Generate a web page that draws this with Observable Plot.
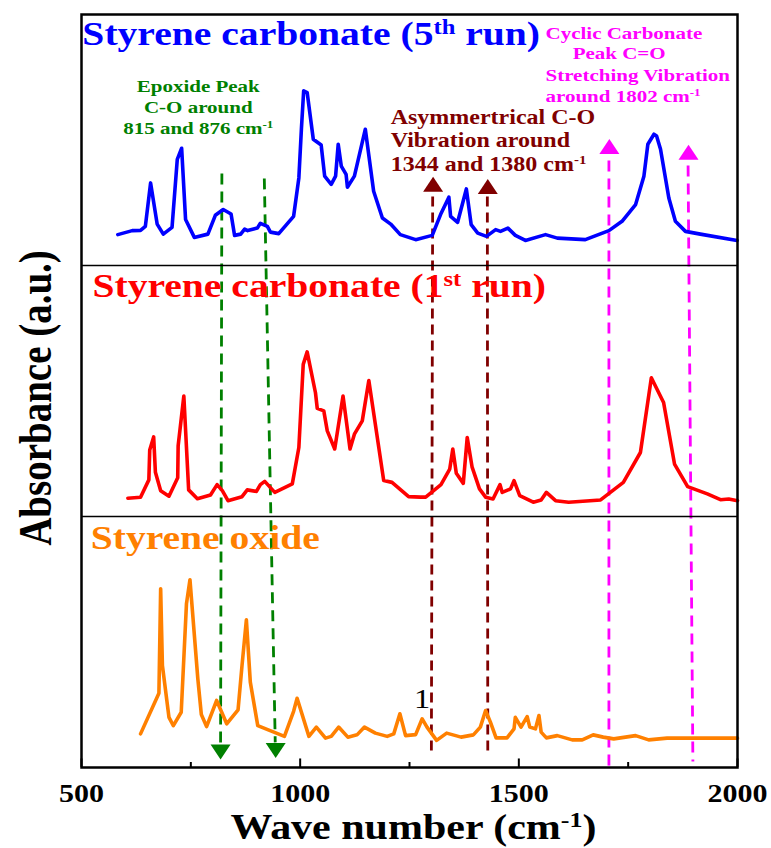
<!DOCTYPE html>
<html>
<head>
<meta charset="utf-8">
<script src="https://cdn.jsdelivr.net/npm/d3@7"></script>
<script src="https://cdn.jsdelivr.net/npm/@observablehq/plot@0.6"></script>
<style>
  body { margin: 0; background: #fff; }
  #chart svg { display: block; }
</style>
</head>
<body>
<div id="chart"></div>
<script>
// ---------- DATA ----------
const xTicks = [500, 1000, 1500, 2000];
const xMinorTicks = [750, 1250, 1750];

const seriesNames = ["Styrene carbonate (5^{th} run)", "Styrene carbonate (1^{st} run)", "Styrene oxide"];

// Styrene carbonate (5th run)
const wn5th = [583, 616, 635, 646, 658, 673, 687, 707, 719, 729, 738, 758, 789, 806, 824, 842, 850, 864, 873, 880,
  902, 909, 925, 932, 951, 985, 997, 1003, 1008, 1016, 1030, 1048, 1056, 1071, 1081, 1087, 1094, 1105, 1108, 1124,
  1149, 1168, 1188, 1207, 1229, 1264, 1302, 1321, 1340, 1344, 1360, 1380, 1391, 1406, 1426, 1447, 1458, 1475, 1492, 1515,
  1561, 1588, 1652, 1706, 1736, 1767, 1786, 1795, 1809, 1815, 1824, 1843, 1858, 1881, 1915, 1999];
const abs5th = [0.123, 0.139, 0.140, 0.156, 0.329, 0.165, 0.125, 0.152, 0.423, 0.467, 0.183, 0.112, 0.125, 0.200, 0.223, 0.205, 0.120, 0.125, 0.145, 0.139,
  0.149, 0.168, 0.156, 0.133, 0.127, 0.196, 0.349, 0.549, 0.696, 0.689, 0.503, 0.480, 0.356, 0.323, 0.356, 0.483, 0.396, 0.363, 0.312, 0.356,
  0.543, 0.296, 0.189, 0.165, 0.123, 0.103, 0.120, 0.203, 0.272, 0.196, 0.172, 0.305, 0.163, 0.129, 0.116, 0.143, 0.136, 0.149, 0.120, 0.100,
  0.123, 0.109, 0.103, 0.139, 0.176, 0.243, 0.356, 0.483, 0.523, 0.516, 0.463, 0.269, 0.176, 0.136, 0.125, 0.100];

// Styrene carbonate (1st run)
const wn1st = [606, 635, 654, 656, 665, 669, 681, 700, 720, 721, 734, 745, 765, 795, 810, 822, 835, 867, 879, 900,
  909, 919, 942, 982, 997, 1007, 1016, 1035, 1039, 1054, 1062, 1079, 1098, 1114, 1124, 1142, 1157, 1191, 1210, 1248,
  1275, 1287, 1322, 1342, 1349, 1357, 1373, 1382, 1393, 1410, 1424, 1441, 1457, 1462, 1481, 1489, 1502, 1533, 1551, 1563,
  1584, 1614, 1687, 1739, 1778, 1803, 1831, 1856, 1886, 1931, 1961, 1980, 2000];
const abs1st = [0.073, 0.077, 0.146, 0.265, 0.317, 0.176, 0.103, 0.081, 0.154, 0.282, 0.480, 0.106, 0.071, 0.086, 0.127, 0.103, 0.063, 0.079, 0.106, 0.100,
  0.127, 0.140, 0.096, 0.130, 0.275, 0.606, 0.656, 0.493, 0.431, 0.421, 0.341, 0.269, 0.480, 0.269, 0.328, 0.381, 0.542, 0.143, 0.136, 0.079,
  0.077, 0.077, 0.127, 0.189, 0.269, 0.172, 0.132, 0.315, 0.198, 0.110, 0.077, 0.070, 0.127, 0.096, 0.110, 0.143, 0.083, 0.057, 0.066, 0.096,
  0.063, 0.057, 0.066, 0.136, 0.255, 0.553, 0.454, 0.209, 0.119, 0.090, 0.067, 0.070, 0.063];

// Styrene oxide
const wnOx = [635, 677, 681, 685, 700, 710, 728, 740, 748, 766, 774, 786, 809, 832, 858, 867, 877, 886, 903, 964,
  985, 993, 1020, 1037, 1058, 1071, 1088, 1109, 1130, 1147, 1172, 1199, 1214, 1228, 1241, 1264, 1279, 1290, 1312, 1335,
  1368, 1396, 1412, 1424, 1435, 1448, 1473, 1489, 1492, 1505, 1519, 1525, 1538, 1546, 1551, 1563, 1588, 1622, 1645, 1670,
  1693, 1717, 1767, 1797, 1839, 2000];
const absOx = [0.134, 0.296, 0.712, 0.406, 0.200, 0.167, 0.220, 0.652, 0.748, 0.353, 0.211, 0.163, 0.267, 0.174, 0.230, 0.406, 0.588, 0.340, 0.167, 0.124,
  0.224, 0.276, 0.124, 0.161, 0.117, 0.124, 0.161, 0.121, 0.130, 0.161, 0.137, 0.124, 0.134, 0.214, 0.127, 0.131, 0.194, 0.161, 0.108, 0.137,
  0.121, 0.130, 0.161, 0.227, 0.181, 0.118, 0.118, 0.154, 0.200, 0.161, 0.203, 0.161, 0.154, 0.207, 0.141, 0.118, 0.127, 0.110, 0.110, 0.130,
  0.121, 0.114, 0.127, 0.110, 0.117, 0.117];

// Annotation texts
const epoxideText = "Epoxide Peak\nC-O around\n815 and 876 cm^{-1}";
const asymText = "Asymmertrical C-O\nVibration around\n1344 and 1380 cm^{-1}";
const cyclicText = "Cyclic Carbonate\n\nStretching Vibration\naround 1802 cm^{-1}";
const cyclicText2 = "Peak C=O";
const markerText = "1";
const xLabel = "Wave number (cm^{-1})";
const yLabel = "Absorbance (a.u.)";

// Guide lines (wave number at top / bottom, stacked absorbance units)
const epoxideGuides = [{x1: 821, y1: 2.367, x2: 818, y2: 0.092}, {x1: 918, y1: 2.347, x2: 943, y2: 0.10}];
const asymGuides = [{x1: 1303, y1: 2.275, x2: 1300, y2: 0.044}, {x1: 1428, y1: 2.275, x2: 1429, y2: 0.044}];
const cyclicGuides = [{x1: 1706, y1: 2.418, x2: 1706, y2: 0.0}, {x1: 1887, y1: 2.398, x2: 1898, y2: 0.024}];
const epoxideArrows = [{x: 818, y: 0.062}, {x: 944, y: 0.068}];
const asymArrows = [{x: 1304, y: 2.324}, {x: 1429, y: 2.315}];
const cyclicArrows = [{x: 1707, y: 2.474}, {x: 1888, y: 2.451}];

// ---------- BUILD ----------
const toRows = (wn, ab, offset) => wn.map((w, i) => ({wn: w, y: ab[i] + offset}));
const rows5th = toRows(wn5th, abs5th, 2);
const rows1st = toRows(wn1st, abs1st, 1);
const rowsOx = toRows(wnOx, absOx, 0);

const triUp = {draw(ctx, size) { const s = Math.sqrt(size / Math.PI); ctx.moveTo(0, -0.75 * s); ctx.lineTo(s, 0.75 * s); ctx.lineTo(-s, 0.75 * s); ctx.closePath(); }};
const triDown = {draw(ctx, size) { const s = Math.sqrt(size / Math.PI); ctx.moveTo(0, 0.75 * s); ctx.lineTo(s, -0.75 * s); ctx.lineTo(-s, -0.75 * s); ctx.closePath(); }};

const GREEN = "#008000", MAROON = "#800000", MAGENTA = "#ff00ff";
const lw = 3.6;

const plot = Plot.plot({
  width: 771,
  height: 848,
  marginTop: 14,
  marginBottom: 81,
  marginLeft: 81,
  marginRight: 34,
  style: {fontFamily: "'Liberation Serif', 'Times New Roman', serif", background: "white"},
  x: {domain: [500, 2000], axis: null},
  y: {domain: [0, 3], axis: null},
  marks: [
    // guide lines
    Plot.link(epoxideGuides, {x1: "x1", y1: "y1", x2: "x2", y2: "y2", stroke: GREEN, strokeWidth: 2.8, strokeDasharray: "11,7"}),
    Plot.link(asymGuides, {x1: "x1", y1: "y1", x2: "x2", y2: "y2", stroke: MAROON, strokeWidth: 2.8, strokeDasharray: "10,6"}),
    Plot.link(cyclicGuides, {x1: "x1", y1: "y1", x2: "x2", y2: "y2", stroke: MAGENTA, strokeWidth: 2.8, strokeDasharray: "11,7"}),
    // spectra
    Plot.line(rows5th, {x: "wn", y: "y", stroke: "#0000ff", strokeWidth: lw, strokeLinejoin: "round"}),
    Plot.line(rows1st, {x: "wn", y: "y", stroke: "#ff0000", strokeWidth: lw, strokeLinejoin: "round"}),
    Plot.line(rowsOx, {x: "wn", y: "y", stroke: "#ff8000", strokeWidth: lw, strokeLinejoin: "round"}),
    // arrow heads
    Plot.dot(epoxideArrows, {x: "x", y: "y", r: 10, symbol: triDown, fill: GREEN, stroke: null}),
    Plot.dot(asymArrows, {x: "x", y: "y", r: 10, symbol: triUp, fill: MAROON, stroke: null}),
    Plot.dot(cyclicArrows, {x: "x", y: "y", r: 10, symbol: triUp, fill: MAGENTA, stroke: null}),
    // panel separators and frame
    Plot.ruleY([1, 2], {stroke: "black", strokeWidth: 1.5}),
    Plot.frame({stroke: "black", strokeWidth: 2.5}),
    // ticks (inward)
    Plot.ruleX(xTicks, {x: d => d, y1: 0, y2: 0.034, stroke: "black", strokeWidth: 2}),
    Plot.ruleX(xMinorTicks, {x: d => d, y1: 0, y2: 0.02, stroke: "black", strokeWidth: 2}),
    // tick labels
    Plot.text(xTicks, {x: d => d, text: d => String(d), frameAnchor: "bottom", dy: 34, lineAnchor: "bottom", fontSize: 25, fontWeight: "bold", fill: "black"}),
    // axis titles
    Plot.text([xLabel], {frameAnchor: "bottom", textAnchor: "middle", dx: 4, dy: 71, lineAnchor: "bottom", fontSize: 35, fontWeight: "bold", fill: "black"}),
    Plot.text([yLabel], {frameAnchor: "left", textAnchor: "middle", rotate: -90, dx: -31, dy: 7, lineAnchor: "bottom", fontSize: 39, fontWeight: "bold", fill: "black"}),
    // panel titles
    Plot.text([seriesNames[0]], {x: 502, y: 2.880, textAnchor: "start", lineAnchor: "bottom", fontSize: 33, fontWeight: "bold", fill: "#0000ff"}),
    Plot.text([seriesNames[1]], {x: 525, y: 1.876, textAnchor: "start", lineAnchor: "bottom", fontSize: 33, fontWeight: "bold", fill: "#ff0000"}),
    Plot.text([seriesNames[2]], {x: 521, y: 0.869, textAnchor: "start", lineAnchor: "bottom", fontSize: 33, fontWeight: "bold", fill: "#ff8000"}),
    // annotations
    Plot.text([epoxideText], {x: 767, y: 2.522, textAnchor: "middle", lineAnchor: "bottom", lineHeight: 1.2, fontSize: 17.5, fontWeight: "bold", fill: GREEN}),
    Plot.text([asymText], {x: 1207, y: 2.378, textAnchor: "start", lineAnchor: "bottom", lineHeight: 1.17, fontSize: 20, fontWeight: "bold", fill: MAROON}),
    Plot.text([cyclicText], {x: 1561, y: 2.651, textAnchor: "start", lineAnchor: "bottom", lineHeight: 1.2, fontSize: 17.5, fontWeight: "bold", fill: MAGENTA}),
    Plot.text([cyclicText2], {x: 1623, y: 2.821, textAnchor: "start", lineAnchor: "bottom", fontSize: 17.5, fontWeight: "bold", fill: MAGENTA}),
    Plot.text([markerText], {x: 1279, y: 0.239, textAnchor: "middle", lineAnchor: "bottom", fontSize: 27, fill: "black"})
  ]
});

// superscripts: "^{...}" -> raised tspan
(function applySup(svg) {
  const walker = document.createTreeWalker(svg, NodeFilter.SHOW_TEXT);
  const nodes = [];
  while (walker.nextNode()) if (walker.currentNode.nodeValue.includes("^{")) nodes.push(walker.currentNode);
  for (const node of nodes) {
    const parts = node.nodeValue.split(/\^\{([^}]*)\}/);
    const frag = document.createDocumentFragment();
    parts.forEach((p, i) => {
      if (!p) return;
      if (i % 2 === 0) frag.appendChild(document.createTextNode(p));
      else {
        const t = document.createElementNS("http://www.w3.org/2000/svg", "tspan");
        t.setAttribute("baseline-shift", "super");
        t.setAttribute("font-size", "62%");
        t.textContent = p;
        frag.appendChild(t);
      }
    });
    node.parentNode.replaceChild(frag, node);
  }
})(plot);

// the reference figure is horizontally stretched: widen all text glyphs accordingly
plot.querySelectorAll("text").forEach(t => {
  const tr = t.getAttribute("transform");
  if (tr && /translate\([^)]*\)/.test(tr)) {
    t.setAttribute("transform", tr.replace(/translate\([^)]*\)/, m => m + " scale(1.2,1)"));
  }
});

document.getElementById("chart").appendChild(plot);
</script>
</body>
</html>
